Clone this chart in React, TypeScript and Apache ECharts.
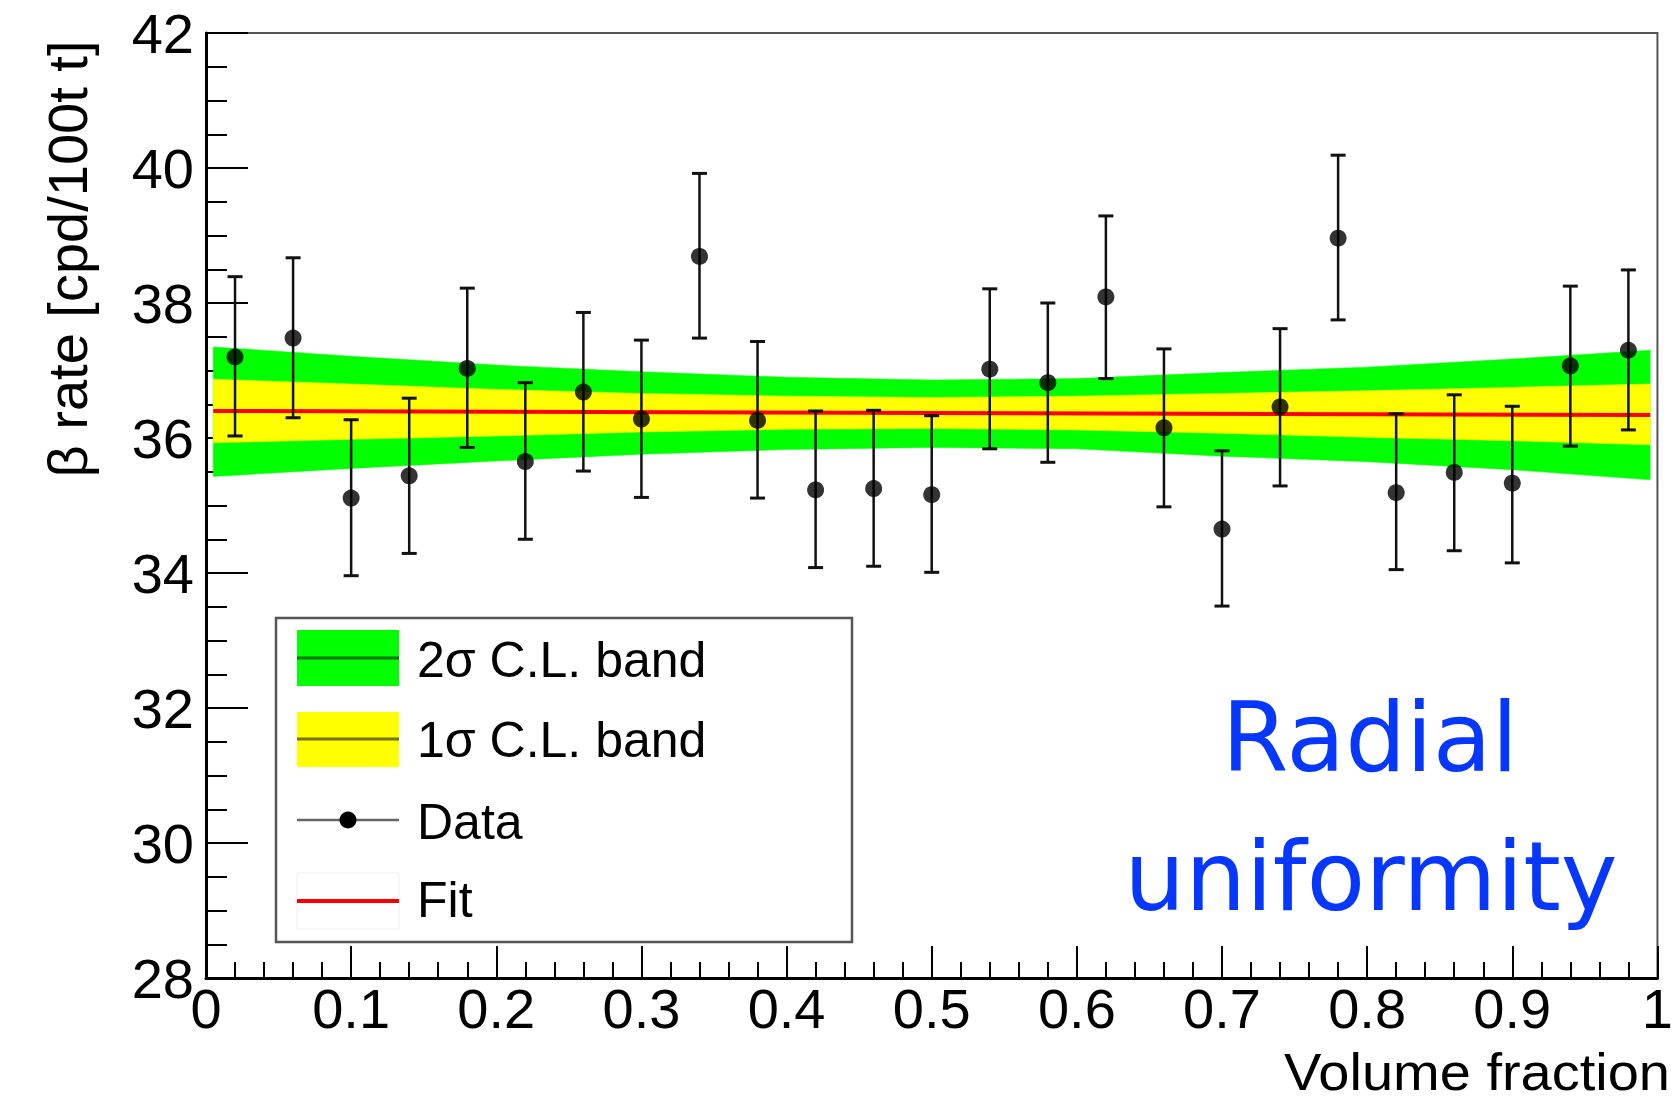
import React, { useEffect, useRef } from "react";
import * as echarts from "echarts";

// ---- data ----
const xValues = [0.02, 0.06, 0.10, 0.14, 0.18, 0.22, 0.26, 0.30, 0.34, 0.38, 0.42, 0.46, 0.50,
  0.54, 0.58, 0.62, 0.66, 0.70, 0.74, 0.78, 0.82, 0.86, 0.90, 0.94, 0.98];
const yValues = [37.20, 37.48, 35.11, 35.44, 37.03, 35.65, 36.68, 36.28, 38.69, 36.26, 35.23, 35.25, 35.16,
  37.02, 36.82, 38.09, 36.15, 34.65, 36.46, 38.96, 35.19, 35.49, 35.33, 37.07, 37.30];
const yHigh = [38.39, 38.67, 36.27, 36.59, 38.22, 36.82, 37.86, 37.45, 39.92, 37.43, 36.40, 36.41, 36.33,
  38.21, 38.00, 39.29, 37.32, 35.81, 37.62, 40.19, 36.36, 36.64, 36.47, 38.25, 38.49];
const yLow = [36.03, 36.30, 33.96, 34.29, 35.86, 34.50, 35.51, 35.12, 37.48, 35.11, 34.08, 34.10, 34.01,
  35.84, 35.64, 36.88, 34.98, 33.51, 35.29, 37.75, 34.05, 34.33, 34.15, 35.88, 36.12];

const bandX = [0.005, 0.1, 0.2, 0.3, 0.4, 0.5, 0.6, 0.7, 0.8, 0.9, 0.995];
const green2High = [37.35, 37.21, 37.08, 36.98, 36.90, 36.86, 36.88, 36.97, 37.05, 37.17, 37.30];
const yellow1High = [36.87, 36.80, 36.72, 36.66, 36.62, 36.60, 36.62, 36.66, 36.70, 36.75, 36.80];
const yellow1Low = [35.93, 35.98, 36.03, 36.09, 36.13, 36.14, 36.12, 36.07, 36.01, 35.96, 35.90];
const green2Low = [35.43, 35.55, 35.66, 35.76, 35.83, 35.86, 35.84, 35.73, 35.65, 35.53, 35.38];

const fitX = [0.005, 0.995];
const fitY = [36.40, 36.34];

const xTicks = { min: 0, max: 1, interval: 0.1 };
const yTicks = { min: 28, max: 42, interval: 2 };

const legendLabels = ["2\u03c3 C.L. band", "1\u03c3 C.L. band", "Data", "Fit"];
const xTitle = "Volume fraction";
const yTitle = "\u03b2 rate [cpd/100t t]";
const noteLines = ["Radial", "uniformity"];

const FONT = "'Liberation Sans', Arial, Helvetica, sans-serif";
const NOTE_FONT = "'Comic Sans MS', 'DejaVu Sans', sans-serif";

function bandSeries(lo: number[], hi: number[], color: string) {
  return {
    type: "custom",
    data: [[bandX[0], lo[0]]],
    silent: true,
    z: 1,
    renderItem: (_p: any, api: any) => {
      const upper = bandX.map((x, i) => api.coord([x, hi[i]]));
      const lower = bandX.map((x, i) => api.coord([x, lo[i]])).reverse();
      return {
        type: "polygon",
        shape: { points: upper.concat(lower) },
        style: { fill: color, stroke: color, lineWidth: 0.5 },
      };
    },
  };
}

export default function App() {
  const ref = useRef<HTMLDivElement>(null);

  useEffect(() => {
    if (!ref.current) return;
    const chart = echarts.init(ref.current, undefined, { renderer: "svg" });

    const lx = 276, ly = 618, lw = 576, lh = 324;
    const sx = 297, sw = 102, tx = 417;

    const option: any = {
      animation: false,
      backgroundColor: "#ffffff",
      textStyle: { fontFamily: FONT },
      grid: {
        left: 206, top: 33, width: 1466, height: 945,
        show: true, borderColor: "#555", borderWidth: 2, backgroundColor: "transparent",
      },
      xAxis: {
        type: "value",
        min: xTicks.min, max: xTicks.max, interval: xTicks.interval,
        axisLine: { show: true, onZero: false, lineStyle: { color: "#000", width: 3 } },
        axisTick: { show: true, inside: true, length: 32, lineStyle: { color: "#000", width: 2 } },
        minorTick: { show: true, splitNumber: 5, length: 16, lineStyle: { color: "#000", width: 2 } },
        splitLine: { show: false },
        axisLabel: { color: "#000", fontSize: 56, fontFamily: FONT, margin: 2 },
      },
      yAxis: {
        type: "value",
        min: yTicks.min, max: yTicks.max, interval: yTicks.interval,
        axisLine: { show: true, onZero: false, lineStyle: { color: "#000", width: 3 } },
        axisTick: { show: true, inside: true, length: 42, lineStyle: { color: "#000", width: 2 } },
        minorTick: { show: true, splitNumber: 4, length: 21, lineStyle: { color: "#000", width: 2 } },
        splitLine: { show: false },
        axisLabel: { color: "#000", fontSize: 56, fontFamily: FONT, margin: 12 },
      },
      series: [
        bandSeries(green2Low, green2High, "#00ff00"),
        bandSeries(yellow1Low, yellow1High, "#ffff00"),
        {
          type: "line",
          data: fitX.map((x, i) => [x, fitY[i]]),
          symbol: "none",
          lineStyle: { color: "#ff0000", width: 4 },
          z: 3,
          silent: true,
        },
        {
          type: "custom",
          data: xValues.map((x, i) => [x, yLow[i], yHigh[i]]),
          z: 4,
          silent: true,
          encode: { x: 0, y: [1, 2] },
          renderItem: (_p: any, api: any) => {
            const x = api.value(0);
            const lo = api.coord([x, api.value(1)]);
            const hi = api.coord([x, api.value(2)]);
            const hw = 7.5;
            const st = { stroke: "#111", lineWidth: 2.5 };
            return {
              type: "group",
              children: [
                { type: "line", shape: { x1: lo[0], y1: lo[1], x2: hi[0], y2: hi[1] }, style: st },
                { type: "line", shape: { x1: lo[0] - hw, y1: lo[1], x2: lo[0] + hw, y2: lo[1] }, style: { ...st, lineWidth: 3 } },
                { type: "line", shape: { x1: hi[0] - hw, y1: hi[1], x2: hi[0] + hw, y2: hi[1] }, style: { ...st, lineWidth: 3 } },
              ],
            };
          },
        },
        {
          type: "scatter",
          data: xValues.map((x, i) => [x, yValues[i]]),
          symbol: "circle",
          symbolSize: 17,
          itemStyle: { color: "#000" },
          z: 5,
          silent: true,
        },
      ],
      graphic: [
        // axis titles
        {
          type: "text", x: 67, y: 259, rotation: Math.PI / 2,
          style: { text: yTitle, fontSize: 56, fontFamily: FONT, fill: "#000", align: "center", verticalAlign: "middle" },
        },
        {
          type: "text", x: 1670, y: 1072, scaleY: 0.92,
          style: { text: xTitle, fontSize: 56, fontFamily: FONT, fill: "#000", align: "right", verticalAlign: "middle" },
        },
        // note
        {
          type: "text", x: 1370, y: 738,
          style: { text: noteLines[0], fontSize: 96, fontFamily: NOTE_FONT, fill: "#0537ff", align: "center", verticalAlign: "middle" },
        },
        {
          type: "text", x: 1371, y: 877,
          style: { text: noteLines[1], fontSize: 96, fontFamily: NOTE_FONT, fill: "#0537ff", align: "center", verticalAlign: "middle" },
        },
        // legend box
        {
          type: "rect", shape: { x: lx, y: ly, width: lw, height: lh }, z: 10,
          style: { fill: "#fff", stroke: "#555", lineWidth: 2.5 },
        },
        { type: "rect", shape: { x: sx, y: 630, width: sw, height: 56 }, z: 11, style: { fill: "#00ff00" } },
        { type: "line", shape: { x1: sx, y1: 658, x2: sx + sw, y2: 658 }, z: 12, style: { stroke: "#000", opacity: 0.55, lineWidth: 3 } },
        { type: "rect", shape: { x: sx, y: 712, width: sw, height: 55 }, z: 11, style: { fill: "#ffff00" } },
        { type: "line", shape: { x1: sx, y1: 739, x2: sx + sw, y2: 739 }, z: 12, style: { stroke: "#000", opacity: 0.55, lineWidth: 3 } },
        { type: "line", shape: { x1: sx, y1: 820, x2: sx + sw, y2: 820 }, z: 12, style: { stroke: "#666", lineWidth: 2.5 } },
        { type: "circle", shape: { cx: sx + sw / 2, cy: 820, r: 8.5 }, z: 13, style: { fill: "#000" } },
        { type: "rect", shape: { x: sx, y: 873, width: sw, height: 56 }, z: 11, style: { fill: "#fff", stroke: "#eeeeee", lineWidth: 1 } },
        { type: "line", shape: { x1: sx, y1: 901, x2: sx + sw, y2: 901 }, z: 12, style: { stroke: "#ff0000", lineWidth: 4 } },
        ...legendLabels.map((t, i) => ({
          type: "text", x: tx, y: [660, 740, 822, 900][i], z: 13,
          style: { text: t, fontSize: 50, fontFamily: FONT, fill: "#000", align: "left", verticalAlign: "middle" },
        })),
      ],
    };

    chart.setOption(option);
    return () => chart.dispose();
  }, []);

  return (
    <div
      ref={ref}
      style={{ position: "fixed", left: 0, top: 0, width: 1676, height: 1102, background: "#fff" }}
    />
  );
}
